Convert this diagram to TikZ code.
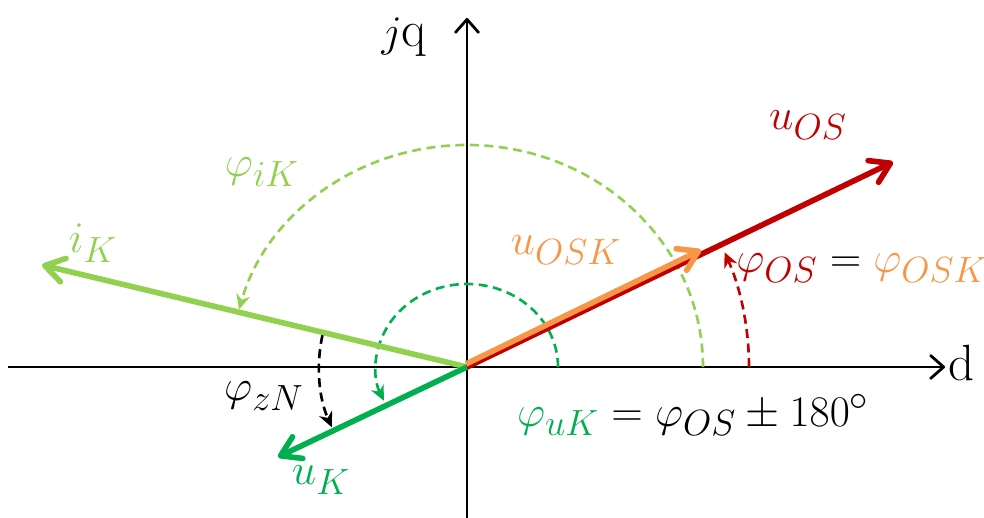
\documentclass[tikz,border=0pt]{standalone}
\usepackage{amsmath,amssymb}
\usetikzlibrary{arrows.meta}
\definecolor{osred}{HTML}{C00000}
\definecolor{oskorange}{HTML}{F79646}
\definecolor{iklime}{HTML}{92D050}
\definecolor{ukgreen}{HTML}{00B050}

\begin{document}
\begin{tikzpicture}[
  x=0.2mm,
  y=0.2mm,
  font=\fontsize{29}{34}\selectfont,
  axis/.style={-{Straight Barb[length=2.6mm, width=4.6mm, round]}, line width=1.6pt},
  phasor/.style={-{Straight Barb[length=3.8mm, width=4.8mm, round]}, line width=3.2pt},
  anglearc/.style={-{Stealth[length=3mm, width=2.8mm]}, dash pattern=on 1.8mm off 1.1mm, line width=1.5pt}
]
\useasboundingbox (-467,-151) rectangle (517,367);

% axes
\coordinate (O) at (0,0);
\coordinate (dneg) at (-459,0);
\coordinate (dpos) at (478,0);
\coordinate (qneg) at (0,-151);
\coordinate (qpos) at (0,349);
\draw[axis] (dneg) -- (dpos);
\draw[axis] (qneg) -- (qpos);
\node (dlabel) at (495,4) {d};
\node (qlabel) at (-63,330) {$j$q};

% angle arcs
\coordinate (ikarc) at (236,0);
\coordinate (ukarc) at (91,0);
\coordinate (osarc) at (282,0);
\coordinate (zNarc) at (167.5:148);
\draw[anglearc, draw=iklime] (ikarc) arc[start angle=0, end angle=165, x radius=236, y radius=222];
\draw[anglearc, draw=ukgreen] (ukarc) arc[start angle=0, end angle=204, x radius=91, y radius=83];
\draw[anglearc, draw=osred] (osarc) arc[start angle=0, end angle=24, radius=282];
\draw[anglearc, draw=black] (zNarc) arc[start angle=167.5, end angle=204, radius=148];

% phasors
\coordinate (ik) at (-425,102);
\coordinate (uk) at (-189,-90);
\coordinate (uos) at (426,205);
\coordinate (Osk) at (-1,3);
\coordinate (uosk) at (234,117);
\draw[phasor, draw=iklime] (O) -- (ik);
\draw[phasor, draw=ukgreen] (O) -- (uk);
\draw[phasor, draw=osred] (O) -- (uos);
\draw[phasor, draw=oskorange] (Osk) -- (uosk);

% labels
\node[text=osred] (uoslabel) at (341,242) {$u_{OS}$};
\node[font=\fontsize{27.5}{33}\selectfont] (oseq) at (395,99) {${\color{osred}\varphi_{OS}} = {\color{oskorange}\varphi_{OSK}}$};
\node[text=oskorange] (uosklabel) at (99,117) {$u_{OSK}$};
\node[text=iklime] (iklabel) at (-374,124) {$i_K$};
\node[text=iklime] (phiklabel) at (-205,195) {$\varphi_{iK}$};
\node (zNlabel) at (-203,-29) {$\varphi_{zN}$};
\node[text=ukgreen] (uklabel) at (-146,-113) {$u_K$};
\node (ukeq) at (226,-48) {${\color{ukgreen}\varphi_{uK}} = \varphi_{OS} \pm 180^\circ$};

\end{tikzpicture}
\end{document}
